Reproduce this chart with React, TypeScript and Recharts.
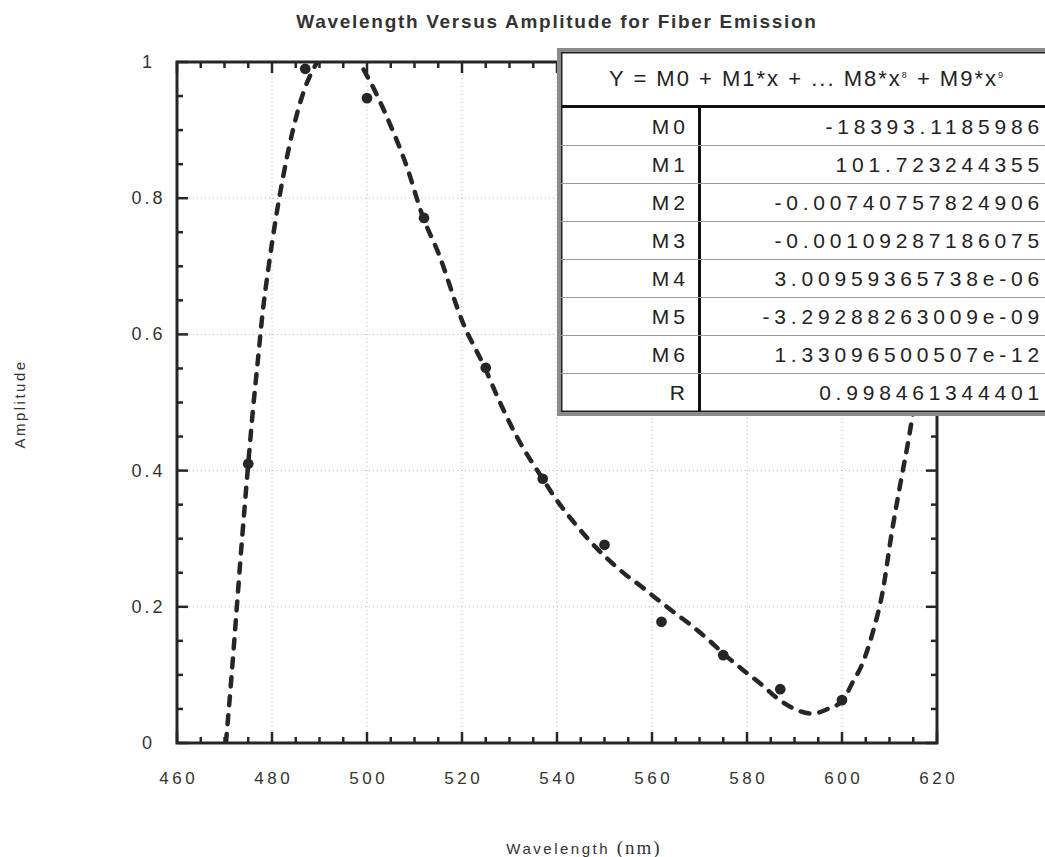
import { ComposedChart, Line, Scatter, XAxis, YAxis, ZAxis, ReferenceLine, ReferenceArea } from 'recharts';

// #region data
// fitted curve (wavelength nm, amplitude)
const curveX = [470.3, 471.5, 472.6, 473.7, 475, 476, 477, 478, 479.3, 480.8, 482.3, 484.4, 487, 488.6, 491, 494, 497, 499.2, 501.5, 504.2, 508.4, 511.8, 515, 520.2, 524.8, 528, 531.6, 536.8, 540, 543.8, 547.4, 550.7, 554.3, 557.9, 561.3, 564.8, 568.4, 571.8, 575.4, 579.2, 583.2, 586.3, 589.7, 593.7, 597, 600.2, 602.3, 604.2, 606.5, 608.5, 610.5, 612.4, 614, 615.5, 617];
const curveY = [0, 0.1, 0.2, 0.3, 0.41, 0.49, 0.56, 0.63, 0.7, 0.77, 0.83, 0.9, 0.963, 0.988, 1.015, 1.03, 1.02, 0.99, 0.96, 0.919, 0.846, 0.772, 0.72, 0.617, 0.551, 0.5, 0.449, 0.39, 0.356, 0.322, 0.293, 0.27, 0.248, 0.229, 0.21, 0.191, 0.172, 0.152, 0.129, 0.107, 0.085, 0.066, 0.051, 0.043, 0.05, 0.063, 0.09, 0.115, 0.163, 0.22, 0.31, 0.385, 0.445, 0.51, 0.58];

// measured points
const pointX = [475, 487, 500, 512, 525, 537, 550, 562, 575, 587, 600];
const pointY = [0.41, 0.99, 0.947, 0.771, 0.551, 0.388, 0.291, 0.178, 0.129, 0.079, 0.063];

const xTicks = [460, 465, 470, 475, 480, 485, 490, 495, 500, 505, 510, 515, 520, 525, 530, 535, 540, 545, 550, 555, 560, 565, 570, 575, 580, 585, 590, 595, 600, 605, 610, 615, 620];
const yTicks = [0, 0.05, 0.1, 0.15, 0.2, 0.25, 0.3, 0.35, 0.4, 0.45, 0.5, 0.55, 0.6, 0.65, 0.7, 0.75, 0.8, 0.85, 0.9, 0.95, 1];
const xGrid = [480, 500, 520, 540, 560, 580, 600];
const yGrid = [0.2, 0.4, 0.6, 0.8];

const coefNames = ['M0', 'M1', 'M2', 'M3', 'M4', 'M5', 'M6', 'R'];
const coefValues = ['-18393.1185986', '101.723244355', '-0.00740757824906', '-0.00109287186075', '3.00959365738e-06', '-3.29288263009e-09', '1.33096500507e-12', '0.998461344401'];
// #endregion

const curve = curveX.map((x, i) => ({ x, y: curveY[i] }));
const points = pointX.map((x, i) => ({ x, y: pointY[i] }));

const W = 1045;
const H = 857;
const PLOT = { left: 177, right: 937, top: 62, bottom: 743 };
const INK = '#262626';
const TEXT = '#333';
const SANS = '"Liberation Sans", Arial, Helvetica, sans-serif';

function XTick({ x, payload }: any) {
  const v = payload.value;
  const major = v % 20 === 0;
  const len = major ? 11 : 6;
  return (
    <g>
      <line x1={x} x2={x} y1={PLOT.bottom} y2={PLOT.bottom - len} stroke={INK} strokeWidth={2.5} />
      <line x1={x} x2={x} y1={PLOT.top} y2={PLOT.top + len} stroke={INK} strokeWidth={2.5} />
      {major && (
        <text x={x + 1.7} y={PLOT.bottom + 41} textAnchor="middle" fontFamily={SANS} fontSize={17} letterSpacing={3.5} fill={TEXT}>
          {v}
        </text>
      )}
    </g>
  );
}

function YTick({ y, payload }: any) {
  const v = payload.value;
  const major = Math.round(v * 100) % 20 === 0;
  const len = major ? 11 : 6;
  const label = v === 0 ? '0' : v === 1 ? '1' : v.toFixed(1);
  return (
    <g>
      <line x1={PLOT.left} x2={PLOT.left + len} y1={y} y2={y} stroke={INK} strokeWidth={2.5} />
      <line x1={PLOT.right} x2={PLOT.right - len} y1={y} y2={y} stroke={INK} strokeWidth={2.5} />
      {major && (
        <text x={147 + 1.5} y={y + 6} textAnchor="middle" fontFamily={SANS} fontSize={18} letterSpacing={3} fill={TEXT}>
          {label}
        </text>
      )}
    </g>
  );
}

function CoefTable() {
  return (
    <div
      style={{
        position: 'absolute',
        left: 557,
        top: 48,
        width: 500,
        height: 368,
        boxSizing: 'border-box',
        border: '4px solid #8c8c8c',
        boxShadow: 'inset 0 0 0 1.5px #222',
        background: '#fff',
        fontFamily: SANS,
        color: '#222',
      }}
    >
      <div
        style={{
          height: 56,
          boxSizing: 'border-box',
          borderBottom: '3px solid #111',
          display: 'flex',
          alignItems: 'center',
          justifyContent: 'center',
          fontSize: 22,
          letterSpacing: 2,
          whiteSpace: 'nowrap',
        }}
      >
        <span>
          Y = M0 + M1*x + ... M8*x<sup style={{ fontSize: 9 }}>8</sup> + M9*x<sup style={{ fontSize: 9 }}>9</sup>
        </span>
      </div>
      {coefNames.map((n, i) => (
        <div
          key={n}
          style={{
            height: 38,
            boxSizing: 'border-box',
            borderBottom: i < coefNames.length - 1 ? '1px solid #9a9a9a' : 'none',
            display: 'flex',
            fontSize: 21,
            letterSpacing: 4.8,
            lineHeight: '37px',
            whiteSpace: 'nowrap',
          }}
        >
          <div style={{ width: 128, borderRight: '3px solid #111', textAlign: 'right', paddingRight: 9, letterSpacing: 4 }}>{n}</div>
          <div style={{ flex: 1, textAlign: 'right', paddingRight: 9 }}>{coefValues[i]}</div>
        </div>
      ))}
    </div>
  );
}

export default function App() {
  return (
    <div style={{ position: 'relative', width: W, height: H, overflow: 'hidden', background: '#fff' }}>
      <style>{'body{margin:0;overflow:hidden}'}</style>
      <ComposedChart
        width={W}
        height={H}
        margin={{ top: PLOT.top, right: W - PLOT.right, left: PLOT.left - 60, bottom: H - PLOT.bottom - 60 }}
      >
        <XAxis
          dataKey="x"
          type="number"
          domain={[460, 620]}
          allowDataOverflow
          ticks={xTicks}
          interval={0}
          height={60}
          tickSize={0}
          tickMargin={0}
          axisLine={false}
          tickLine={false}
          tick={(p: any) => <XTick {...p} />}
        />
        <YAxis
          dataKey="y"
          type="number"
          domain={[0, 1]}
          allowDataOverflow
          ticks={yTicks}
          interval={0}
          width={60}
          tickSize={0}
          tickMargin={0}
          axisLine={false}
          tickLine={false}
          tick={(p: any) => <YTick {...p} />}
        />
        <ZAxis range={[90, 90]} />
        {xGrid.map((v) => (
          <ReferenceLine key={'gx' + v} x={v} stroke="#b5b5b5" strokeWidth={1} strokeDasharray="1 3" />
        ))}
        {yGrid.map((v) => (
          <ReferenceLine key={'gy' + v} y={v} stroke="#b5b5b5" strokeWidth={1} strokeDasharray="1 3" />
        ))}
        <ReferenceArea x1={460} x2={620} y1={0} y2={1} fill="none" fillOpacity={0} stroke={INK} strokeWidth={3} />
        <Line
          data={curve}
          dataKey="y"
          type="monotone"
          stroke={INK}
          strokeWidth={4.5}
          strokeDasharray="9 10"
          strokeLinecap="round"
          dot={false}
          activeDot={false}
          isAnimationActive={false}
        />
        <Scatter data={points} dataKey="y" fill={INK} isAnimationActive={false} />
      </ComposedChart>

      <div
        style={{
          position: 'absolute',
          left: 557,
          top: 11,
          transform: 'translateX(-50%)',
          whiteSpace: 'nowrap',
          fontFamily: SANS,
          fontWeight: 'bold',
          fontSize: 19,
          letterSpacing: 1.7,
          lineHeight: '22px',
          color: TEXT,
        }}
      >
        Wavelength Versus Amplitude for Fiber Emission
      </div>
      <div
        style={{
          position: 'absolute',
          left: 19,
          top: 404,
          transform: 'translate(-50%, -50%) rotate(-90deg)',
          whiteSpace: 'nowrap',
          fontFamily: SANS,
          fontSize: 15,
          letterSpacing: 2.5,
          color: TEXT,
        }}
      >
        Amplitude
      </div>
      <div
        style={{
          position: 'absolute',
          left: 584,
          top: 848,
          transform: 'translate(-50%, -50%)',
          whiteSpace: 'nowrap',
          fontFamily: SANS,
          fontSize: 15,
          letterSpacing: 2.5,
          color: TEXT,
        }}
      >
        Wavelength{' '}
        <span style={{ fontFamily: '"Liberation Serif", "DejaVu Serif", serif', fontSize: 19, letterSpacing: 2 }}>(nm)</span>
      </div>
      <CoefTable />
    </div>
  );
}
